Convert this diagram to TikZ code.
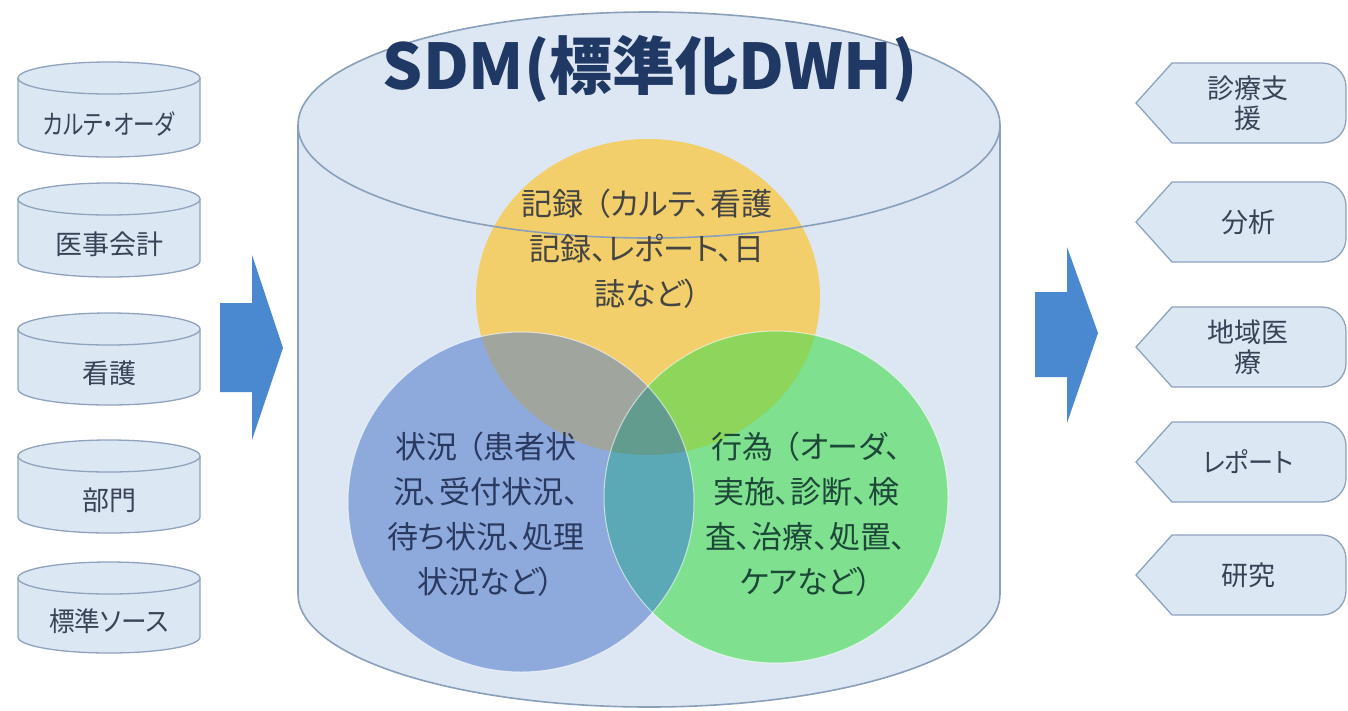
\documentclass[tikz,border=0pt]{standalone}
\usepackage{fontspec}
\setmainfont{Noto Sans CJK JP}[RawFeature=+palt]
\definecolor{cylfill}{HTML}{DDE7F3}
\definecolor{cyledge}{HTML}{8A9FBA}
\definecolor{boxfill}{HTML}{DCE7F4}
\definecolor{boxedge}{HTML}{8FA3BD}
\definecolor{lbltext}{HTML}{3A4256}
\definecolor{arrowblue}{HTML}{4A88D0}
\definecolor{titleblue}{HTML}{1F3864}
\definecolor{cyel}{HTML}{F2CF6B}
\definecolor{cblu}{HTML}{8EAADC}
\definecolor{cgrn}{HTML}{7FE08F}
\definecolor{yb}{HTML}{A0A69E}
\definecolor{yg}{HTML}{8DD55B}
\definecolor{bg}{HTML}{5BA8B6}
\definecolor{ybg}{HTML}{629C8F}
\definecolor{ytext}{HTML}{444442}
\definecolor{btext}{HTML}{2A3960}
\definecolor{gtext}{HTML}{1C4838}
\begin{document}
\begin{tikzpicture}[x=1pt,y=-1pt,
  dbshape/.style={fill=boxfill, draw=boxedge, line width=1.3pt},
  outshape/.style={fill=boxfill, draw=boxedge, line width=1.3pt},
  lbl/.style={font=\fontsize{27}{30}\selectfont, text=lbltext, align=center, inner sep=0pt},
  vlbl/.style={font=\fontsize{31}{45}\selectfont, align=center, inner sep=0pt},
  bigarrow/.style={fill=arrowblue, draw=none}]
\useasboundingbox (0,0) rectangle (1348,710);
\fill[white] (0,0) rectangle (1348,710);

% big cylinder body
\path[fill=cylfill, draw=cyledge, line width=1.6pt]
  (298,125) -- (298,594) arc[start angle=180, end angle=360, x radius=351pt, y radius=113pt]
  -- (1000,125) arc[start angle=0, end angle=180, x radius=351pt, y radius=113pt] -- cycle;

% Venn ellipses
\def\Ypath{(648,297) ellipse [x radius=172pt, y radius=158pt]}
\def\Bpath{(521,502) ellipse [x radius=173pt, y radius=170pt]}
\def\Gpath{(776,497) ellipse [x radius=172pt, y radius=166pt]}
\fill[cyel] \Ypath;
\fill[cblu] \Bpath;
\fill[cgrn] \Gpath;
\begin{scope}\clip \Ypath; \fill[yb] \Bpath; \fill[yg] \Gpath; \end{scope}
\begin{scope}\clip \Bpath; \fill[bg] \Gpath; \end{scope}
\begin{scope}\clip \Ypath; \clip \Bpath; \fill[ybg] \Gpath; \end{scope}
\draw[white, opacity=0.6, line width=1pt] \Bpath;
\draw[white, opacity=0.6, line width=1pt] \Gpath;

% front edge of the top ellipse
\draw[cyledge, line width=1.6pt]
  (298,125) arc[start angle=180, end angle=360, x radius=351pt, y radius=113pt];

\node[font=\bfseries\fontsize{63}{63}\selectfont, text=titleblue, inner sep=0pt] (title) at (650,69) {SDM(標準化DWH)};

\node[vlbl, text=ytext] (rec) at (647,249) {記録\hspace{0.35em}（カルテ、看護\\記録、レポート、日\\誌など）};
\node[vlbl, text=btext] (sit) at (486,514) {状況\hspace{0.35em}（患者状\\況、受付状況、\\待ち状況、処理\\状況など）};
\node[vlbl, text=gtext] (act) at (806,514) {行為\hspace{0.35em}（オーダ、\\実施、診断、検\\査、治療、処置、\\ケアなど）};

% source cylinders
\foreach \t/\b/\nm/\txt in {62/157/src1/\scalebox{0.8}[1]{カルテ・オーダ}, 183/277/src2/医事会計, 313/405/src3/看護, 440/533/src4/部門, 562/653/src5/\scalebox{0.95}[1]{標準ソース}}{
  \path[dbshape] (18,\t+16) -- (18,\b-16) arc[start angle=180, end angle=360, x radius=91pt, y radius=16pt]
     -- (200,\t+16) arc[start angle=0, end angle=180, x radius=91pt, y radius=16pt] -- cycle;
  \draw[boxedge, line width=1.3pt] (18,\t+16) arc[start angle=180, end angle=360, x radius=91pt, y radius=16pt];
  \node[lbl] (\nm) at (109,{(\t+32+\b)/2-2}) {\txt};
}

% output shapes
\foreach \c/\nm/\txt in {103/out1/{診療支\\援}, 222/out2/分析, 347/out3/{地域医\\療}, 462/out4/\scalebox{0.93}[1]{レポート}, 575/out5/研究}{
  \path[outshape] (1136,\c) -- (1172,\c-40) -- (1322,\c-40) arc[start angle=90, end angle=0, radius=24pt]
     -- (1346,\c+16) arc[start angle=0, end angle=-90, radius=24pt] -- (1172,\c+40) -- cycle;
  \node[lbl] (\nm) at (1248,\c) {\txt};
}

% big arrows
\path[bigarrow] (220,303) -- (252,303) -- (252,255) -- (283,348) -- (252,440) -- (252,392) -- (220,392) -- cycle;
\path[bigarrow] (1035,292) -- (1067,292) -- (1067,247) -- (1098,333) -- (1067,423) -- (1067,377) -- (1035,377) -- cycle;
\end{tikzpicture}
\end{document}
